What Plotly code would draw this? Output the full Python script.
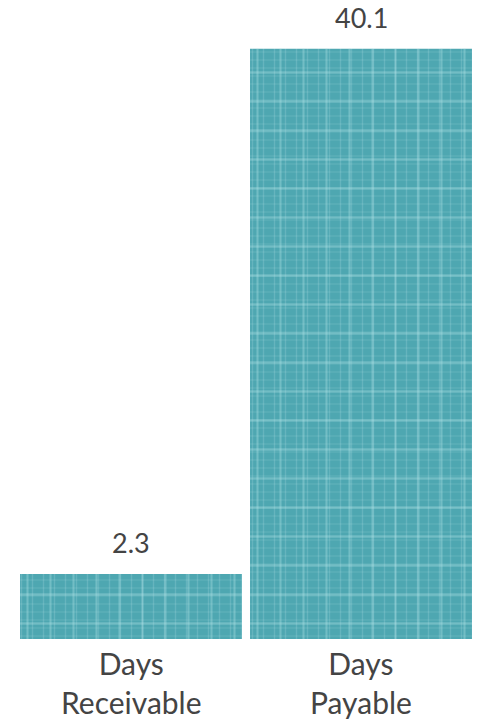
import plotly.graph_objects as go

# Working-capital cycle metrics
categories = ["Days<br>Receivable", "Days<br>Payable"]
values = [2.3, 40.1]
value_labels = ["2.3", "40.1"]

# Axis floor sits slightly below zero so short bars stay visible
AXIS_FLOOR = -2.37
AXIS_TOP = 43.6

BAR_COLOR = "#4ea7b1"
WEAVE_COLOR = "#b4e4e8"
TEXT_COLOR = "#444444"
FONT = "Lato, 'Open Sans', sans-serif"
CLEAR = "rgba(0,0,0,0)"

# woven texture built from overlapping thread layers of different pitch
weave_layers = [
    dict(shape="|", size=11, solidity=0.12, fgopacity=0.22),
    dict(shape="-", size=8, solidity=0.14, fgopacity=0.16),
    dict(shape="|", size=23, solidity=0.09, fgopacity=0.35),
    dict(shape="-", size=29, solidity=0.08, fgopacity=0.35),
]

fig = go.Figure()
for i, layer in enumerate(weave_layers):
    fig.add_trace(go.Bar(
        x=categories,
        y=[v - AXIS_FLOOR for v in values],
        base=[AXIS_FLOOR] * len(values),
        marker=dict(
            color=BAR_COLOR if i == 0 else CLEAR,
            line=dict(width=0),
            pattern=dict(fgcolor=WEAVE_COLOR,
                         bgcolor=BAR_COLOR if i == 0 else CLEAR,
                         **layer),
        ),
        hoverinfo="skip",
    ))

# value labels above each bar
for cat, val, lab in zip(categories, values, value_labels):
    fig.add_annotation(
        x=cat, y=val, xref="x", yref="y", text=lab, showarrow=False,
        yanchor="bottom", yshift=13,
        font=dict(family=FONT, size=27, color=TEXT_COLOR),
    )

# two-line category labels under the bars
for cat in categories:
    fig.add_annotation(
        x=cat, y=0, xref="x", yref="paper", text=cat, showarrow=False,
        yanchor="top", yshift=-4,
        font=dict(family=FONT, size=30, color=TEXT_COLOR),
    )

fig.update_layout(
    width=479, height=721,
    margin=dict(l=16, r=3, t=0, b=82),
    paper_bgcolor="white", plot_bgcolor="white",
    barmode="overlay",
    bargap=0.035,
    showlegend=False,
    xaxis=dict(showticklabels=False, showgrid=False, zeroline=False,
               showline=False, ticks=""),
    yaxis=dict(range=[AXIS_FLOOR, AXIS_TOP], visible=False),
)

fig.write_html("out.html")
